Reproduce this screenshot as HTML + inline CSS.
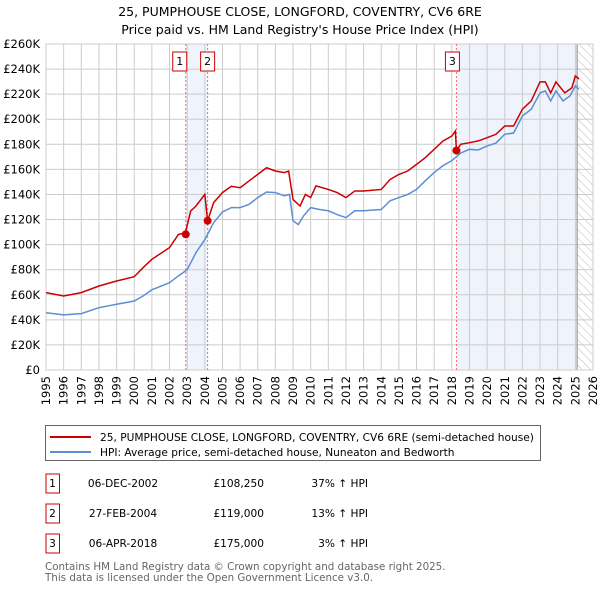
<!DOCTYPE html>
<html><head><meta charset="utf-8"><style>
body{margin:0;background:#fff;font-family:"Liberation Sans","DejaVu Sans",sans-serif}
svg text{font-family:"DejaVu Sans","Liberation Sans",sans-serif}
</style></head><body>
<svg id="c" width="600" height="590" viewBox="0 0 600 590" xmlns="http://www.w3.org/2000/svg">
<defs><pattern id="hatch" width="6" height="6" patternUnits="userSpaceOnUse" patternTransform="rotate(-45)"><line x1="0" y1="0" x2="0" y2="6" stroke="#bbb" stroke-width="1"/></pattern></defs>
<text x="300" y="16" text-anchor="middle" font-size="12.5" fill="#000">25, PUMPHOUSE CLOSE, LONGFORD, COVENTRY, CV6 6RE</text>
<text x="300" y="34" text-anchor="middle" font-size="12.5" fill="#000">Price paid vs. HM Land Registry's House Price Index (HPI)</text>
<g id="plot"></g>
<g>
<rect x="45.5" y="425.5" width="495" height="35" fill="#fff" stroke="#666"/>
<line x1="50" y1="437" x2="91" y2="437" stroke="#cc0000" stroke-width="2"/>
<text x="100" y="441" font-size="10.6">25, PUMPHOUSE CLOSE, LONGFORD, COVENTRY, CV6 6RE (semi-detached house)</text>
<line x1="50" y1="452" x2="91" y2="452" stroke="#5b8fd4" stroke-width="2"/>
<text x="100" y="456" font-size="10.6">HPI: Average price, semi-detached house, Nuneaton and Bedworth</text>
</g>
<g font-size="10.6">
<rect x="46" y="474" width="13.5" height="19" fill="#fff" stroke="#cc0000"/><text x="52.5" y="487" text-anchor="middle">1</text>
<text x="123" y="487" text-anchor="middle">06-DEC-2002</text><text x="264" y="487" text-anchor="end">£108,250</text><text x="368" y="487" text-anchor="end">37% ↑ HPI</text>
<rect x="46" y="504" width="13.5" height="19" fill="#fff" stroke="#cc0000"/><text x="52.5" y="517" text-anchor="middle">2</text>
<text x="123" y="517" text-anchor="middle">27-FEB-2004</text><text x="264" y="517" text-anchor="end">£119,000</text><text x="368" y="517" text-anchor="end">13% ↑ HPI</text>
<rect x="46" y="534" width="13.5" height="19" fill="#fff" stroke="#cc0000"/><text x="52.5" y="547" text-anchor="middle">3</text>
<text x="123" y="547" text-anchor="middle">06-APR-2018</text><text x="264" y="547" text-anchor="end">£175,000</text><text x="368" y="547" text-anchor="end">3% ↑ HPI</text>
</g>
<text x="45" y="570" font-size="10.3" fill="#666">Contains HM Land Registry data © Crown copyright and database right 2025.</text>
<text x="45" y="581" font-size="10.3" fill="#666">This data is licensed under the Open Government Licence v3.0.</text>
</svg>
<script>
const yTicks=[0,20,40,60,80,100,120,140,160,180,200,220,240,260];
const years=[1995,1996,1997,1998,1999,2000,2001,2002,2003,2004,2005,2006,2007,2008,2009,2010,2011,2012,2013,2014,2015,2016,2017,2018,2019,2020,2021,2022,2023,2024,2025,2026];
const hpiT=[1995,1996,1997,1998,1999,2000,2000.5,2001,2002,2002.5,2003,2003.5,2004,2004.5,2005,2005.5,2006,2006.5,2007,2007.5,2008,2008.5,2008.8,2009,2009.3,2009.6,2010,2010.5,2011,2011.5,2012,2012.5,2013,2014,2014.5,2015,2015.5,2016,2016.5,2017,2017.5,2018,2018.5,2019,2019.5,2020,2020.5,2021,2021.5,2022,2022.5,2023,2023.3,2023.6,2023.9,2024.3,2024.7,2025,2025.2];
const hpiV=[45.7,44,45,49.7,52.4,55,59,64,69.6,75,80,93.6,104,117.5,126,129.5,129.5,132,137.5,142,141.5,139,140,119,116,123,129.5,128,127,124,121.5,127,127,128,135,137.5,140,144,151,157.5,163,167,173,176,175.5,178.7,181,188,189,202.6,208,221,222.6,214.6,222.6,214.6,218.6,226.6,224];
const propT=[1995,1996,1997,1998,1999,2000,2000.5,2001,2002,2002.5,2002.9,2003.2,2003.5,2004,2004.16,2004.5,2005,2005.5,2006,2006.5,2007,2007.5,2008,2008.5,2008.75,2009,2009.4,2009.7,2010,2010.3,2011,2011.5,2012,2012.5,2013,2014,2014.5,2015,2015.5,2016,2016.5,2017,2017.5,2018,2018.2,2018.26,2018.5,2019,2019.5,2020,2020.5,2021,2021.5,2022,2022.5,2023,2023.3,2023.6,2023.9,2024.4,2024.8,2025,2025.2];
const propV=[61.7,59,61.7,67,71,74.4,81.6,88.3,97.6,108,109.5,126.8,130.8,140,119,133.5,141.5,146.5,145.4,150.7,156,161.3,158.7,157.4,158.7,136,130.8,140,137.5,146.8,144,141.5,137.5,142.8,142.8,144,152,156,158.7,164,169.4,176,182.7,186.6,190.6,175,180,181.3,182.7,185.3,188,194.6,194.6,208,214.6,229.8,229.8,221,229.8,221,225,234.5,232];
const saleT=[2002.92,2004.16,2018.26];
const saleV=[108.25,119,175];
const saleLabels=["1","2","3"];

const X0=46,X1=593,Y0=370,Y1=44;
const x=t=>X0+(t-1995)/(2026-1995)*(X1-X0);
const y=v=>Y0-v/260*(Y0-Y1);
const g=document.getElementById('plot');
const NS='http://www.w3.org/2000/svg';
function mk(tag,attrs,parent){const e=document.createElementNS(NS,tag);for(const k in attrs)e.setAttribute(k,attrs[k]);(parent||g).appendChild(e);return e;}
const hatchStart=2025.1;
let e;
e=mk('rect',{x:x(saleT[0]),y:Y1,width:x(saleT[1])-x(saleT[0]),height:Y0-Y1,fill:'#eef3fc'});


e=mk('rect',{x:x(saleT[2]),y:Y1,width:x(hatchStart)-x(saleT[2]),height:Y0-Y1,fill:'#eef3fc'});


e=mk('rect',{x:x(hatchStart),y:Y1,width:X1-x(hatchStart),height:Y0-Y1,fill:'url(#hatch)'});


years.forEach(yr=>{
 e=mk('line',{x1:x(yr),x2:x(yr),y1:Y1,y2:Y0,stroke:'#ccc','stroke-width':1});
 
 
 e=mk('text',{x:0,y:0,'font-size':11.5,'text-anchor':'end',transform:`translate(${x(yr)+4},${Y0+6}) rotate(-90)`});
 e.textContent=yr;
 
 
});
yTicks.forEach(v=>{
 e=mk('line',{x1:X0,x2:X1,y1:y(v),y2:y(v),stroke:'#ccc','stroke-width':1});
 
 
 e=mk('text',{x:X0-6,y:y(v)+4,'font-size':11.5,'text-anchor':'end'});
 e.textContent=v===0?'£0':'£'+v+'K';
 
 
});
e=mk('line',{x1:x(hatchStart),x2:x(hatchStart),y1:Y1,y2:Y0,stroke:'#888','stroke-width':1});


e=mk('rect',{x:X0,y:Y1,width:X1-X0,height:Y0-Y1,fill:'none',stroke:'#ccc'});


saleT.forEach((t,i)=>{
 e=mk('line',{x1:x(t),x2:x(t),y1:Y1,y2:Y0,stroke:'#ff6666','stroke-width':1,'stroke-dasharray':'2,2'});
 
 
});
e=mk('polyline',{points:hpiT.map((t,i)=>x(t)+','+y(hpiV[i])).join(' '),fill:'none',stroke:'#5b8fd4','stroke-width':1.5});


e=mk('polyline',{points:propT.map((t,i)=>x(t)+','+y(propV[i])).join(' '),fill:'none',stroke:'#cc0000','stroke-width':1.5});


saleT.forEach((t,i)=>{
 e=mk('circle',{cx:x(t),cy:y(saleV[i]),r:4,fill:'#cc0000'});
 
 
 const lx=[x(t)-6,x(t)+0,x(t)-4][i];
 e=mk('rect',{x:lx-7,y:52,width:14,height:19,fill:'#fff',stroke:'#cc0000'});
 
 
 e=mk('text',{x:lx,y:65,'font-size':11,'text-anchor':'middle'});
 e.textContent=saleLabels[i];
 
 
});
</script>
</body></html>
